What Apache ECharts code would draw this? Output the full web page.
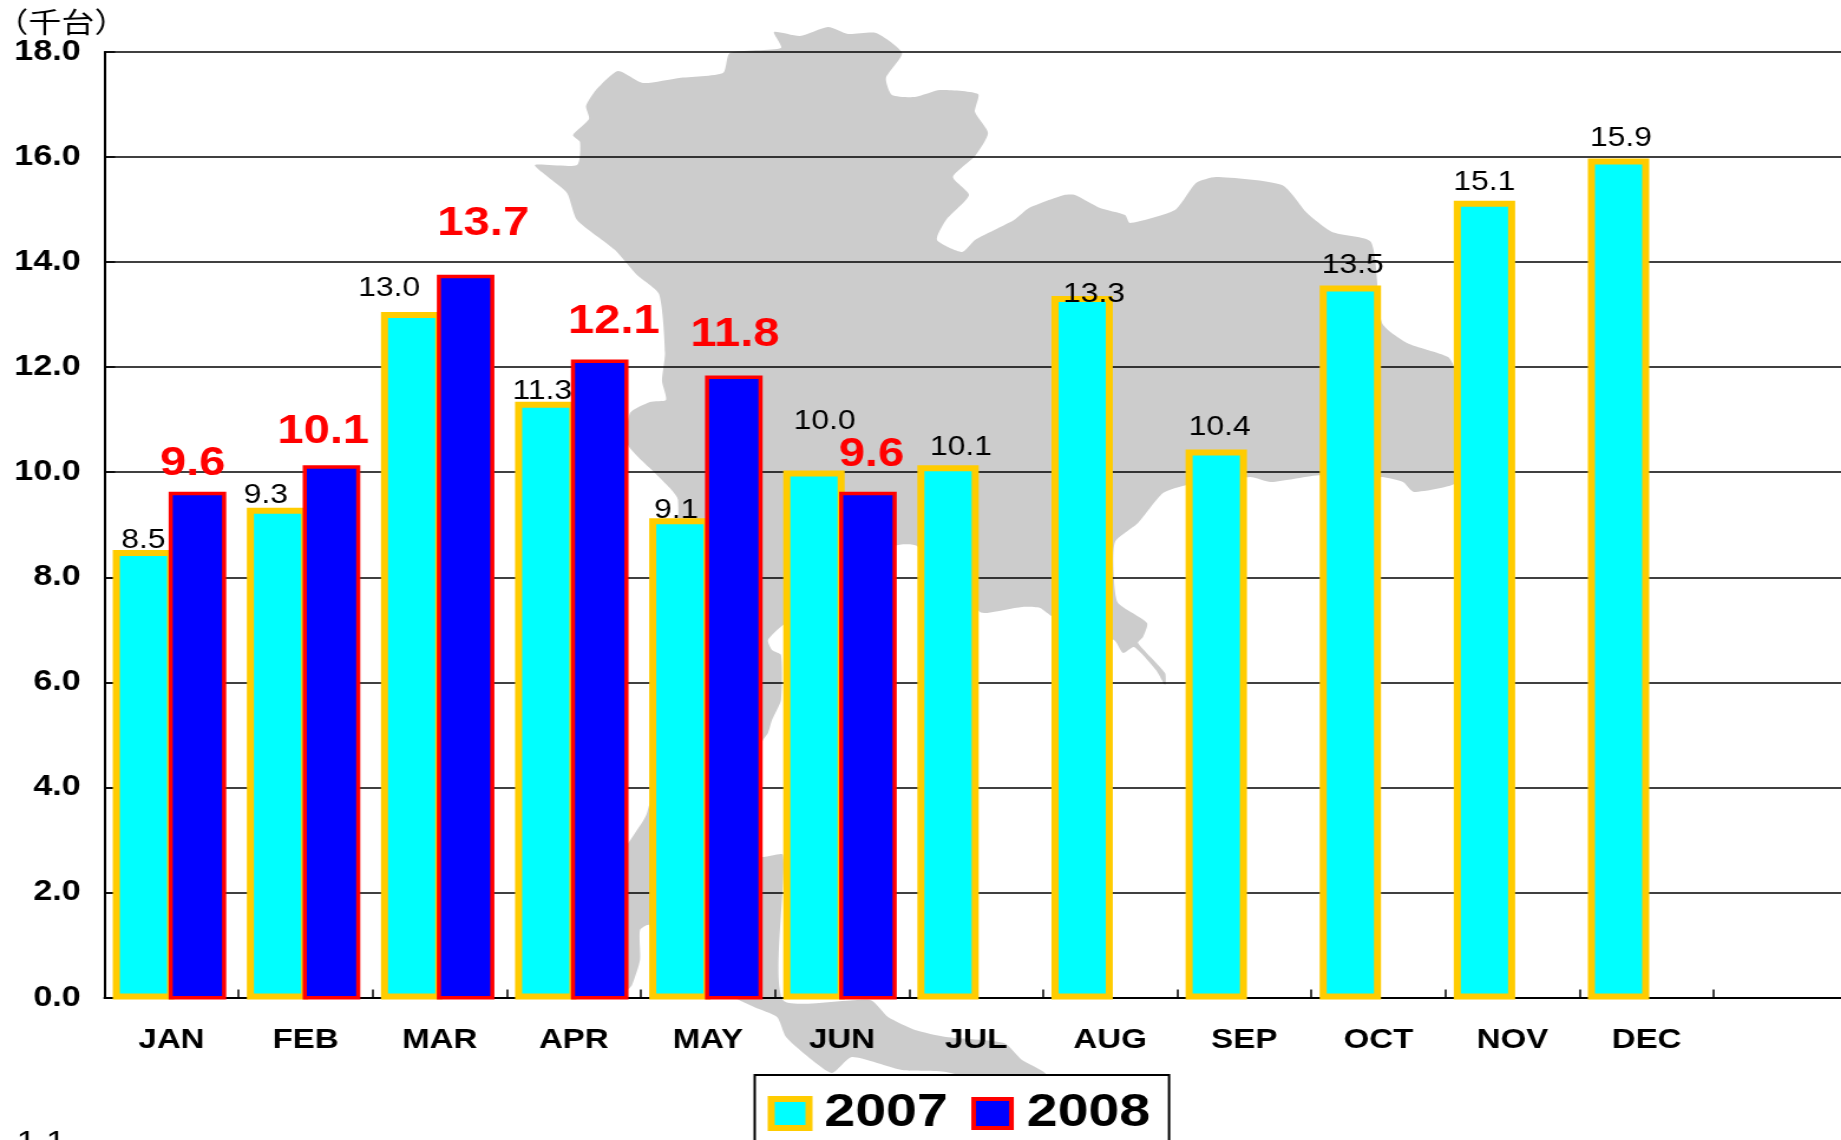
<!DOCTYPE html>
<html>
<head>
<meta charset="utf-8">
<title>chart</title>
<script src="https://cdn.jsdelivr.net/npm/echarts@6/dist/echarts.min.js"></script>
<style>
html, body { margin: 0; padding: 0; background: #fff; overflow: hidden; }
/* the reference is a slide stretched sideways, so the whole canvas is stretched the same way */
#main { width: 1560px; height: 1140px; transform: scaleX(1.18013); transform-origin: 0 0; }
</style>
</head>
<body>
<div id="main"></div>
<script>
var months = ['JAN', 'FEB', 'MAR', 'APR', 'MAY', 'JUN', 'JUL', 'AUG', 'SEP', 'OCT', 'NOV', 'DEC', ''];
var values2007 = [8.5, 9.3, 13.0, 11.3, 9.1, 10.0, 10.1, 13.3, 10.4, 13.5, 15.1, 15.9, null];
var values2008 = [9.6, 10.1, 13.7, 12.1, 11.8, 9.6, null, null, null, null, null, null, null];

// hand placed labels, same order as the values
var labelShift2007 = [[0, 4], [-10, 1], [-19, -10], [-3, 3], [-3, 6], [9, -36], [11, -4], [10, 12], [3, -8], [2, -6], [0, -5], [2, -6]];
var labelShift2008 = [[-4, -8], [-7, -13], [15, -31], [12, -18], [1, -20], [3, -17]];

var stretch = 1.18013;
var fontName = '"Liberation Sans", Arial, sans-serif';

// grey map behind the plot, page pixels
var mapOutline = [[774,32],[800,36],[828,27],[848,34],[876,33],[902,53],[886,78],[892,95],[915,97],[940,90],[978,94],[975,112],[988,133],[975,156],[953,177],[969,195],[946,220],[937,240],[962,252],
    [975,240],[1014,220],[1029,208],[1064,195],[1075,195],[1100,208],[1125,215],[1130,223],[1175,210],[1196,183],[1216,177],[1282,185],[1307,213],[1332,232],[1371,242],[1382,323],[1407,343],[1448,357],[1455,370],
    [1460,480],[1414,492],[1403,482],[1382,477],[1321,475],[1271,482],[1250,477],[1187,485],[1163,493],[1138,523],[1115,542],
    [1114,580],[1118,603],[1147,623],[1143,637],[1138,643],[1165,673],[1165,685],[1156,670],[1134,647],[1123,653],[1114,640],[1053,617],[1040,608],[1022,607],[987,613],[980,612],
    [917,546],[895,546],[783,625],[768,640],[772,650],[781,655],[781,700],[772,720],[768,733],[763,740],[745,780],[745,850],[763,857],[783,855],
    [783,1000],[870,1000],[888,1017],[915,1030],[946,1037],[1004,1043],[1022,1060],[1045,1073],[1060,1100],[946,1072],[902,1070],[852,1057],[832,1073],[812,1060],[786,1037],[777,1017],[754,1007],[739,1000],
    [660,960],[649,925],[640,930],[640,960],[632,985],[627,990],[620,860],[647,813],[670,700],[678,500],[659,477],[628,445],[630,413],[650,402],[666,400],[662,381],[665,353],[659,294],[637,275],[615,250],[577,220],[567,193],[548,177],[535,165],[577,165],[580,142],[573,135],[589,119],[586,106],[596,90],[618,71],[643,83],[679,78],[723,73],[730,53],[781,48]];

function withLabels(values, shifts) {
    return values.map(function (v, i) {
        if (v === null) return null;
        return { value: v, label: { offset: shifts[i] } };
    });
}

var myChart = echarts.init(document.getElementById('main'));
myChart.setOption({
    animation: false,
    title: {
        text: '（千台）',
        left: -4,
        top: 8,
        padding: 0,
        textStyle: { fontFamily: '"Noto Sans CJK JP"', fontSize: 28, fontWeight: 'normal', color: '#000' }
    },
    graphic: {
        elements: [{
            type: 'polygon',
            z: -1,
            silent: true,
            shape: { points: mapOutline.map(function (p) { return [p[0] / stretch, p[1]]; }), smooth: 0.2 },
            style: { fill: '#cccccc' }
        }, {
            type: 'text',
            x: 14,
            y: 1128,
            style: { text: '1 1', fontFamily: fontName, fontSize: 30, fill: '#000' }
        }]
    },
    legend: {
        data: [
            { name: '2007', itemStyle: { color: '#00ffff', borderColor: '#ffcc00', borderWidth: 6 } },
            { name: '2008', itemStyle: { color: '#0000ff', borderColor: '#ff0000', borderWidth: 4 } }
        ],
        left: 639.5,
        top: 1075,
        padding: [15, 16, 40, 11],
        itemGap: 20,
        itemWidth: 32,
        itemHeight: 29,
        icon: 'rect',
        backgroundColor: '#fff',
        borderColor: '#000',
        borderWidth: 2,
        textStyle: { fontFamily: fontName, fontSize: 47, fontWeight: 'bold', color: '#000', padding: [0, 0, 0, 8] }
    },
    // the plot runs past the right edge of the page, as in the reference.
    // second grid holds the bars: its scale is a little taller because ECharts keeps the border inside each bar
    grid: [
        { left: 88.5, top: 52, width: 1477.2, height: 945.5, outerBoundsMode: 'none' },
        { left: 86.8, top: 47.4, width: 1477.2, height: 952.2, outerBoundsMode: 'none' }
    ],
    xAxis: [{
        type: 'category',
        gridIndex: 0,
        data: months,
        axisLine: { show: true, lineStyle: { color: '#000', width: 2 } },
        axisTick: { show: true, inside: true, length: 8, lineStyle: { color: '#000', width: 1.5 } },
        axisLabel: { fontFamily: fontName, fontSize: 28, fontWeight: 'bold', color: '#000', margin: 29, interval: 0 }
    }, {
        type: 'category',
        gridIndex: 1,
        data: months,
        show: false
    }],
    yAxis: [{
        type: 'value',
        gridIndex: 0,
        min: 0,
        max: 18,
        interval: 2,
        axisLine: { show: true, lineStyle: { color: '#000', width: 2 } },
        axisTick: { show: true, inside: true, length: 9, lineStyle: { color: '#000', width: 1.5 } },
        splitLine: { show: true, lineStyle: { color: '#000', width: 1.5 } },
        axisLabel: {
            fontFamily: fontName, fontSize: 29, fontWeight: 'bold', color: '#000', margin: 20, padding: [4, 0, 0, 0],
            formatter: function (v) { return v.toFixed(1); }
        }
    }, {
        type: 'value',
        gridIndex: 1,
        min: 0,
        max: 18,
        interval: 2,
        show: false,
        splitLine: { show: false }
    }],
    series: [{
        name: '2007',
        type: 'bar',
        xAxisIndex: 1,
        yAxisIndex: 1,
        barWidth: 52,
        barGap: '-9%',
        itemStyle: { color: '#00ffff', borderColor: '#ffcc00', borderWidth: 6 },
        label: {
            show: true, position: 'top', distance: 0,
            fontFamily: fontName, fontSize: 27, color: '#000',
            formatter: function (p) { return p.value.toFixed(1); }
        },
        data: withLabels(values2007, labelShift2007)
    }, {
        name: '2008',
        type: 'bar',
        xAxisIndex: 1,
        yAxisIndex: 1,
        barWidth: 48.8,
        barGap: '-9%',
        itemStyle: { color: '#0000ff', borderColor: '#ff0000', borderWidth: 3.5 },
        label: {
            show: true, position: 'top', distance: 0,
            fontFamily: fontName, fontSize: 40, fontWeight: 'bold', color: '#ff0000',
            formatter: function (p) { return p.value.toFixed(1); }
        },
        data: withLabels(values2008, labelShift2008)
    }]
});
</script>
</body>
</html>
